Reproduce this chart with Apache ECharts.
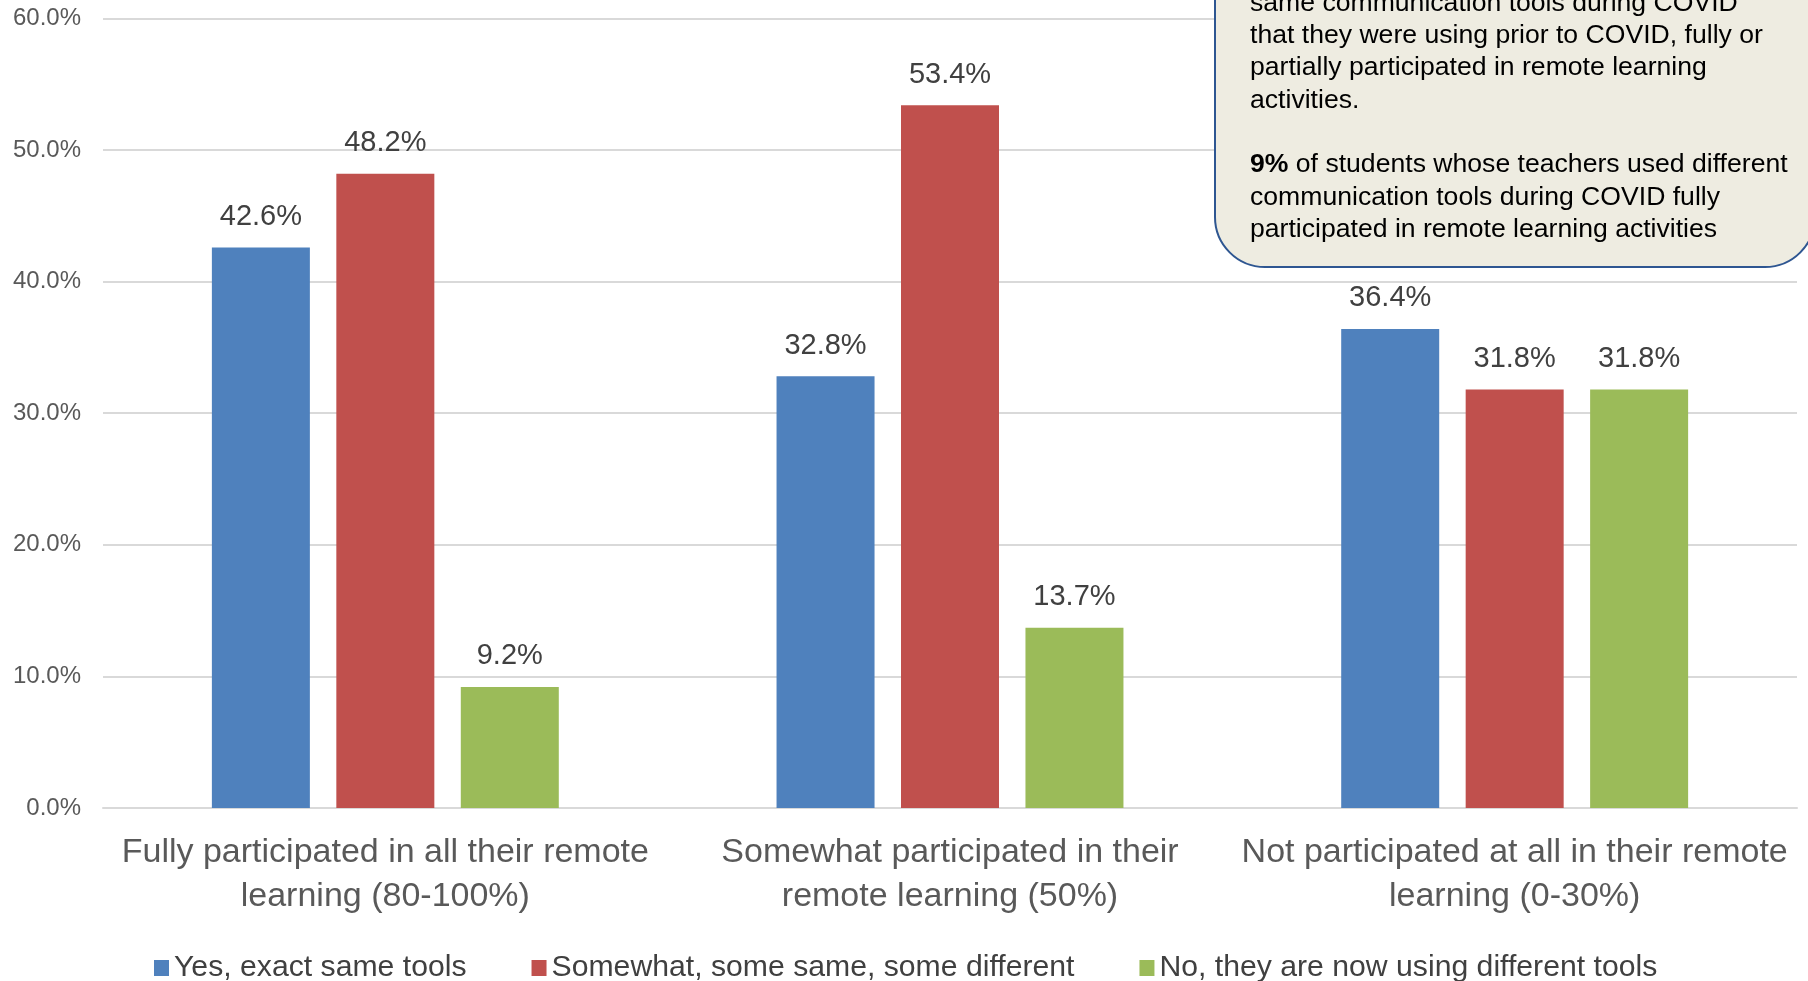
<!DOCTYPE html>
<html>
<head>
<meta charset="utf-8">
<script src="https://cdn.jsdelivr.net/npm/echarts@6/dist/echarts.min.js"></script>
<style>
html,body{margin:0;padding:0;background:#fff;}
#chart{width:1808px;height:981px;}
</style>
</head>
<body>
<div id="chart"></div>
<script>
const categories = [
  'Fully participated in all their remote\nlearning (80-100%)',
  'Somewhat participated in their\nremote learning (50%)',
  'Not participated at all in their remote\nlearning (0-30%)'
];
const seriesNames = ['Yes, exact same tools', 'Somewhat, some same, some different', 'No, they are now using different tools'];
const yesSame = [42.6, 32.8, 36.4];
const someSame = [48.2, 53.4, 31.8];
const different = [9.2, 13.7, 31.8];
const yTicks = { min: 0, max: 60, interval: 10 };
const colors = ['#4F81BD', '#C0504D', '#9BBB59'];

const noteLines = [
  'same communication tools during COVID',
  'that they were using prior to COVID, fully or',
  'partially participated in remote learning',
  'activities.'
];
const noteBold = '9%';
const noteLines2 = [
  ' of students whose teachers used different',
  'communication tools during COVID fully',
  'participated in remote learning activities'
];

const FONT = 'Liberation Sans, Arial, sans-serif';
const chart = echarts.init(document.getElementById('chart'), null, { renderer: 'canvas' });

function mk(name, data, color) {
  return {
    name, type: 'bar', data,
    barWidth: 98, barGap: '27%',
    itemStyle: { color },
    label: {
      show: true, position: 'top', distance: 16,
      formatter: p => p.value.toFixed(1) + '%',
      fontFamily: FONT, fontSize: 29, color: '#404040'
    }
  };
}

const noteText = noteLines.map(l => '{n|' + l + '}').join('\n') + '\n{n| }\n{b|' + noteBold + '}' +
  noteLines2.map((l, i) => (i === 0 ? '' : '\n') + '{n|' + l + '}').join('');

chart.setOption({
  animation: false,
  grid: { left: 103, right: 11, top: 18.4, bottom: 173, containLabel: false },
  legend: {
    left: 149, top: 948, itemGap: 65, itemWidth: 15, itemHeight: 16, icon: 'rect',
    textStyle: { fontFamily: FONT, fontSize: 30.2, color: '#404040' },
    data: seriesNames
  },
  xAxis: {
    type: 'category', data: categories,
    axisLine: { show: true, lineStyle: { color: '#D9D9D9', width: 2 } },
    axisTick: { show: false },
    axisLabel: { interval: 0, margin: 23, fontFamily: FONT, fontSize: 34, lineHeight: 44, color: '#595959' }
  },
  yAxis: {
    type: 'value', min: yTicks.min, max: yTicks.max, interval: yTicks.interval,
    axisLine: { show: false }, axisTick: { show: false },
    splitLine: { lineStyle: { color: '#D9D9D9', width: 2 } },
    axisLabel: { margin: 22, fontFamily: FONT, fontSize: 24, color: '#595959', formatter: v => v.toFixed(1) + '%' }
  },
  series: [mk(seriesNames[0], yesSame, colors[0]), mk(seriesNames[1], someSame, colors[1]), mk(seriesNames[2], different, colors[2])],
  graphic: [
    {
      type: 'rect', z: 100,
      shape: { x: 1215, y: -60, width: 600, height: 327, r: 50 },
      style: { fill: '#EEECE1', stroke: '#2E5691', lineWidth: 2 }
    },
    {
      type: 'text', z: 101, x: 1250, y: -12.6,
      style: {
        text: noteText,
        font: '26.6px ' + FONT,
        fill: '#000',
        verticalAlign: 'top',
        rich: {
          n: { fontFamily: FONT, fontSize: 26.6, lineHeight: 32.3, fill: '#000' },
          b: { fontFamily: FONT, fontSize: 26.6, lineHeight: 32.3, fontWeight: 'bold', fill: '#000' }
        }
      }
    }
  ]
});
</script>
</body>
</html>
